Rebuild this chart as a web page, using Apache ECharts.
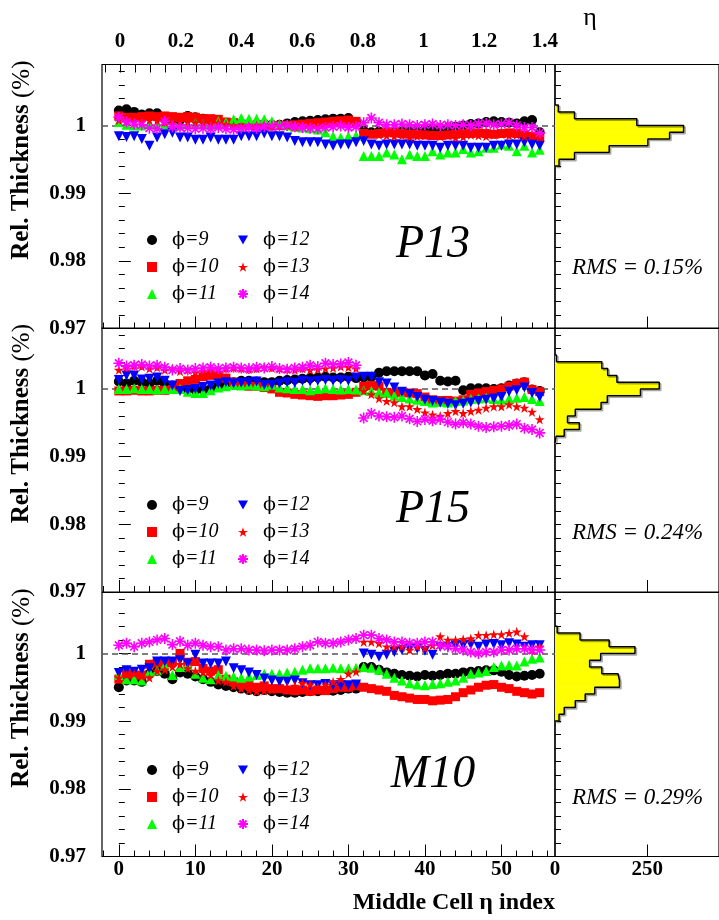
<!DOCTYPE html>
<html><head><meta charset="utf-8">
<script src="https://cdn.jsdelivr.net/npm/echarts@6/dist/echarts.min.js"></script>
<style>html,body{margin:0;padding:0;background:#fff}#c{width:719px;height:920px}</style>
</head><body><div id="c"></div>
<script>
// ---------- DATA ----------
const cellIndex = [0,1,2,3,4,5,6,7,8,9,10,11,12,13,14,15,16,17,18,19,20,21,22,23,24,25,26,27,28,29,30,31,32,33,34,35,36,37,38,39,40,41,42,43,44,45,46,47,48,49,50,51,52,53,54,55];
const phiNames = ['ϕ=9','ϕ=10','ϕ=11','ϕ=12','ϕ=13','ϕ=14'];

// P13
const p13_phi9  = [1.0022,1.0024,1.0020,1.0016,1.0018,1.0018,1.0010,1.0006,1.0008,1.0014,1.0012,1.0010,1.0008,1.0006,1.0004,1.0002,1.0000,1.0001,1.0002,1.0002,1.0001,1.0001,1.0003,1.0005,1.0006,1.0007,1.0008,1.0009,1.0010,1.0010,1.0011,1.0005,0.9992,0.9990,0.9991,0.9990,0.9990,0.9991,0.9991,0.9992,0.9994,0.9995,0.9996,0.9997,0.9998,1.0000,1.0002,1.0003,1.0005,1.0006,1.0005,1.0004,1.0003,1.0006,1.0008,0.9990];
const p13_phi10 = [1.0014,1.0012,1.0012,1.0013,1.0014,1.0013,1.0014,1.0013,1.0012,1.0013,1.0012,1.0010,1.0010,1.0009,1.0005,1.0004,1.0002,1.0000,0.9999,0.9998,0.9999,1.0000,1.0000,1.0001,1.0002,1.0003,1.0004,1.0005,1.0006,1.0007,1.0008,1.0006,0.9988,0.9987,0.9988,0.9990,0.9989,0.9988,0.9987,0.9987,0.9986,0.9985,0.9985,0.9986,0.9987,0.9988,0.9988,0.9989,0.9988,0.9987,0.9988,0.9989,0.9988,0.9986,0.9984,0.9982];
const p13_phi11 = [1.0005,1.0001,1.0000,1.0000,1.0002,1.0000,1.0002,1.0003,1.0000,1.0002,1.0004,1.0002,1.0000,1.0006,1.0005,1.0009,1.0011,1.0010,1.0010,1.0009,1.0006,1.0002,1.0000,0.9998,0.9997,0.9996,0.9994,0.9990,0.9984,0.9982,0.9984,0.9985,0.9955,0.9955,0.9955,0.9960,0.9957,0.9950,0.9957,0.9955,0.9955,0.9962,0.9957,0.9960,0.9960,0.9965,0.9960,0.9962,0.9967,0.9967,0.9972,0.9970,0.9962,0.9970,0.9960,0.9964];
const p13_phi12 = [0.9984,0.9983,0.9984,0.9980,0.9970,0.9982,0.9987,0.9989,0.9982,0.9982,0.9979,0.9979,0.9982,0.9979,0.9979,0.9979,0.9984,0.9984,0.9984,0.9988,0.9984,0.9984,0.9982,0.9977,0.9975,0.9975,0.9975,0.9972,0.9970,0.9972,0.9972,0.9975,0.9977,0.9972,0.9970,0.9972,0.9972,0.9972,0.9972,0.9970,0.9970,0.9970,0.9967,0.9970,0.9970,0.9970,0.9967,0.9967,0.9967,0.9970,0.9970,0.9972,0.9972,0.9975,0.9972,0.9970];
const p13_phi13 = [1.0008,1.0006,1.0005,1.0006,1.0008,1.0007,1.0005,1.0004,1.0006,1.0005,1.0004,1.0003,1.0002,1.0004,1.0002,1.0000,0.9998,0.9999,1.0000,1.0001,1.0000,0.9999,1.0000,0.9998,1.0000,1.0001,1.0002,1.0003,1.0004,1.0003,1.0002,1.0003,0.9989,0.9988,0.9986,0.9985,0.9984,0.9985,0.9983,0.9984,0.9985,0.9986,0.9984,0.9985,0.9982,0.9983,0.9986,0.9985,0.9984,0.9986,0.9987,0.9985,0.9986,0.9984,0.9985,0.9983];
const p13_phi14 = [1.0012,1.0005,1.0002,1.0001,0.9996,0.9995,1.0006,0.9998,0.9997,0.9996,0.9995,0.9996,0.9995,0.9997,0.9995,0.9994,0.9996,0.9997,0.9996,0.9998,0.9999,0.9999,1.0000,0.9998,0.9997,0.9996,0.9995,0.9997,0.9998,0.9999,0.9997,0.9998,1.0004,1.0011,1.0004,1.0001,1.0001,1.0002,1.0001,1.0000,1.0001,1.0002,1.0000,1.0001,1.0000,1.0001,1.0000,1.0002,1.0003,1.0001,1.0002,1.0004,1.0000,0.9997,0.9997,0.9989];

// P15
const p15_phi9  = [1.0011,1.0008,1.0012,1.0010,1.0008,1.0012,1.0008,1.0005,1.0002,1.0000,0.9999,0.9999,1.0000,1.0005,1.0008,1.0010,1.0012,1.0012,1.0011,1.0010,1.0010,1.0012,1.0013,1.0014,1.0015,1.0016,1.0017,1.0018,1.0017,1.0017,1.0018,1.0016,1.0017,1.0018,1.0024,1.0026,1.0026,1.0026,1.0026,1.0026,1.0020,1.0022,1.0012,1.0011,1.0012,0.9998,1.0001,1.0001,1.0001,1.0000,1.0001,1.0005,1.0008,1.0010,0.9999,0.9997];
const p15_phi10 = [0.9997,0.9997,0.9998,0.9997,0.9997,0.9998,0.9998,0.9999,1.0008,1.0012,1.0014,1.0018,1.0020,1.0020,1.0016,1.0010,1.0006,1.0004,1.0004,1.0002,1.0000,0.9995,0.9994,0.9992,0.9991,0.9990,0.9989,0.9990,0.9990,0.9991,0.9992,0.9995,1.0004,1.0005,1.0004,0.9995,0.9994,0.9995,0.9994,0.9993,0.9988,0.9984,0.9983,0.9983,0.9982,0.9984,0.9992,0.9994,0.9996,0.9998,1.0000,1.0004,1.0008,1.0010,0.9999,0.9996];
const p15_phi11 = [1.0000,1.0000,1.0001,1.0000,1.0000,0.9999,1.0000,1.0000,1.0000,0.9996,0.9994,0.9994,0.9998,1.0002,1.0004,1.0006,1.0005,1.0006,1.0005,1.0004,1.0006,1.0002,1.0001,1.0000,1.0000,0.9998,1.0000,1.0001,1.0000,0.9999,1.0000,0.9999,0.9998,0.9997,0.9995,0.9994,0.9990,0.9988,0.9986,0.9984,0.9982,0.9980,0.9981,0.9980,0.9982,0.9983,0.9985,0.9986,0.9987,0.9985,0.9984,0.9986,0.9987,0.9988,0.9985,0.9982];
const p15_phi12 = [1.0013,1.0020,1.0020,1.0014,1.0015,1.0017,1.0012,1.0005,0.9997,0.9998,1.0000,1.0003,1.0005,1.0008,1.0010,1.0008,1.0009,1.0010,1.0011,1.0006,1.0006,1.0008,1.0010,1.0009,1.0012,1.0011,1.0012,1.0013,1.0012,1.0013,1.0012,1.0017,1.0018,1.0018,1.0010,1.0008,1.0002,0.9996,0.9992,0.9988,0.9984,0.9982,0.9980,0.9978,0.9976,0.9978,0.9980,0.9982,0.9984,0.9986,0.9988,0.9996,0.9998,1.0002,0.9994,0.9988];
const p15_phi13 = [1.0028,1.0032,1.0034,1.0033,1.0030,1.0032,1.0028,1.0030,1.0026,1.0028,1.0024,1.0026,1.0028,1.0029,1.0030,1.0031,1.0030,1.0029,1.0030,1.0032,1.0031,1.0030,1.0029,1.0028,1.0030,1.0028,1.0029,1.0030,1.0031,1.0033,1.0032,1.0030,0.9997,0.9992,0.9986,0.9982,0.9980,0.9974,0.9974,0.9970,0.9965,0.9962,0.9960,0.9964,0.9967,0.9964,0.9967,0.9969,0.9972,0.9974,0.9974,0.9977,0.9974,0.9972,0.9966,0.9955];
const p15_phi14 = [1.0038,1.0034,1.0035,1.0036,1.0034,1.0035,1.0032,1.0028,1.0030,1.0028,1.0030,1.0031,1.0032,1.0030,1.0031,1.0032,1.0031,1.0030,1.0032,1.0031,1.0033,1.0030,1.0029,1.0031,1.0032,1.0035,1.0033,1.0038,1.0036,1.0037,1.0039,1.0035,0.9957,0.9964,0.9960,0.9959,0.9958,0.9960,0.9956,0.9952,0.9955,0.9953,0.9955,0.9951,0.9948,0.9950,0.9948,0.9945,0.9943,0.9944,0.9945,0.9946,0.9948,0.9942,0.9940,0.9935];

// M10
const m10_phi9  = [0.9950,0.9960,0.9960,0.9958,0.9970,0.9974,0.9970,0.9962,0.9972,0.9970,0.9966,0.9962,0.9958,0.9954,0.9952,0.9950,0.9948,0.9946,0.9944,0.9946,0.9944,0.9943,0.9942,0.9942,0.9943,0.9944,0.9944,0.9946,0.9945,0.9946,0.9948,0.9948,0.9980,0.9980,0.9976,0.9972,0.9970,0.9968,0.9967,0.9966,0.9968,0.9967,0.9968,0.9970,0.9970,0.9972,0.9973,0.9974,0.9975,0.9975,0.9973,0.9968,0.9966,0.9967,0.9968,0.9970];
const m10_phi10 = [0.9962,0.9970,0.9968,0.9968,0.9984,0.9986,0.9986,0.9988,1.0000,0.9987,0.9988,0.9978,0.9974,0.9976,0.9962,0.9958,0.9955,0.9954,0.9950,0.9952,0.9948,0.9948,0.9946,0.9945,0.9946,0.9944,0.9946,0.9945,0.9948,0.9950,0.9950,0.9952,0.9950,0.9948,0.9946,0.9944,0.9938,0.9936,0.9934,0.9932,0.9932,0.9930,0.9931,0.9932,0.9936,0.9942,0.9946,0.9950,0.9953,0.9954,0.9950,0.9948,0.9944,0.9942,0.9940,0.9942];
const m10_phi11 = [0.9968,0.9962,0.9962,0.9960,0.9973,0.9975,0.9982,0.9968,0.9980,0.9983,0.9970,0.9964,0.9962,0.9968,0.9967,0.9966,0.9964,0.9966,0.9968,0.9970,0.9970,0.9970,0.9972,0.9973,0.9976,0.9978,0.9978,0.9978,0.9979,0.9978,0.9978,0.9979,0.9980,0.9979,0.9976,0.9970,0.9964,0.9960,0.9956,0.9954,0.9953,0.9955,0.9956,0.9958,0.9960,0.9964,0.9970,0.9972,0.9974,0.9980,0.9982,0.9983,0.9982,0.9988,0.9992,0.9994];
const m10_phi12 = [0.9971,0.9975,0.9973,0.9976,0.9978,0.9988,0.9988,0.9988,0.9990,0.9985,0.9998,0.9985,0.9985,0.9985,0.9988,0.9978,0.9975,0.9972,0.9968,0.9963,0.9960,0.9958,0.9958,0.9960,0.9956,0.9953,0.9953,0.9955,0.9953,0.9953,0.9953,0.9954,1.0000,0.9998,0.9995,0.9998,1.0002,1.0005,1.0007,1.0007,1.0004,0.9998,1.0010,1.0010,1.0012,1.0012,1.0013,1.0010,1.0013,1.0014,1.0012,1.0015,1.0013,1.0010,1.0012,1.0012];
const m10_phi13 = [0.9964,0.9968,0.9970,0.9966,0.9964,0.9974,0.9976,0.9980,0.9984,0.9978,0.9974,0.9972,0.9968,0.9960,0.9958,0.9952,0.9948,0.9946,0.9944,0.9945,0.9946,0.9948,0.9950,0.9952,0.9956,0.9954,0.9950,0.9954,0.9958,0.9962,0.9970,0.9973,1.0017,1.0017,1.0015,1.0010,1.0010,1.0010,1.0005,1.0010,1.0008,1.0012,1.0025,1.0020,1.0020,1.0021,1.0022,1.0027,1.0027,1.0028,1.0028,1.0030,1.0032,1.0025,1.0005,1.0010];
const m10_phi14 = [1.0012,1.0015,1.0010,1.0015,1.0017,1.0020,1.0022,1.0013,1.0018,1.0012,1.0015,1.0012,1.0010,1.0010,1.0005,1.0007,1.0007,1.0005,1.0005,1.0004,1.0005,1.0005,1.0005,1.0007,1.0010,1.0012,1.0017,1.0015,1.0015,1.0017,1.0020,1.0022,1.0027,1.0027,1.0022,1.0020,1.0017,1.0017,1.0015,1.0015,1.0017,1.0017,1.0012,1.0010,1.0007,1.0005,1.0002,1.0000,1.0002,1.0002,1.0005,1.0005,1.0007,1.0007,1.0005,1.0005];

// histograms (bin edges ascending, counts per bin)
const p13_histEdges  = [0.994,0.995,0.996,0.997,0.998,0.999,1.000,1.001,1.002,1.003];
const p13_histCounts = [11,53,147,252,311,349,222,53,9];
const p15_histEdges  = [0.992,0.993,0.994,0.995,0.996,0.997,0.998,0.999,1.000,1.001,1.002,1.003,1.004,1.005];
const p15_histCounts = [3,25,66,34,55,125,142,232,283,168,143,127,4];
const m10_histEdges  = [0.990,0.991,0.992,0.993,0.994,0.995,0.996,0.997,0.998,0.999,1.000,1.001,1.002,1.003,1.004];
const m10_histCounts = [11,25,55,82,108,175,171,127,94,124,217,147,68,6];

const panelLabels = ['P13','P15','M10'];
const rmsLabels = ['RMS = 0.15%','RMS = 0.24%','RMS = 0.29%'];

// tick values
const yMajorTicks = [0.97,0.98,0.99,1.00];
const yMinorTicks = [0.972,0.974,0.976,0.978,0.982,0.984,0.986,0.988,0.992,0.994,0.996,0.998,1.002,1.004,1.006,1.008];
const xMajorTicks = [0,10,20,30,40,50];
const xMinorTicks = [-2,2,4,6,8,12,14,16,18,22,24,26,28,32,34,36,38,42,44,46,48,52,54,56];
const etaLabels = [0,0.2,0.4,0.6,0.8,1,1.2,1.4];
const etaTicks = [-0.05,0,0.05,0.1,0.15,0.2,0.25,0.3,0.35,0.4,0.45,0.5,0.55,0.6,0.65,0.7,0.75,0.8,0.85,0.9,0.95,1,1.05,1.1,1.15,1.2,1.25,1.3,1.35,1.4];
const histXLabels = [0,250];
const histXTicks = [250];
const histYTicks = [0.972,0.974,0.976,0.978,0.98,0.982,0.984,0.986,0.988,0.99,0.992,0.994,0.996,0.998,1.0,1.002,1.004,1.006,1.008];

// ---------- STYLE / LAYOUT ----------
const SERIF = 'Liberation Serif';
const PHIFONT = '"DejaVu Serif", "Liberation Serif"';
const panelTop = [64.5, 328, 592.5];
const panelH = 264;
const Y_MIN = 0.97, Y_MAX = 1.009;
const X_MIN = -2.2, X_MAX = 57;
const H_MAX = 445;
const STAR = 'path://M0,-10L2.245,-3.09L9.51,-3.09L3.633,1.18L5.88,8.09L0,3.82L-5.88,8.09L-3.633,1.18L-9.51,-3.09L-2.245,-3.09Z';
const ASTER = 'path://M0,-10L0,10M-10,0L10,0M-7.07,-7.07L7.07,7.07M-7.07,7.07L7.07,-7.07';
const TRI_DOWN = 'path://M0,0L10,0L5,9Z';
const symbols = ['circle','rect','triangle','triangle',STAR,ASTER];
const rotations = [0,0,0,180,0,0];
const colors = ['#000000','#ff0000','#00ff00','#0000ff','#ff0000','#ff00ff'];
const sizes = [10,9,10,10,10,11];

const panelData = [
  [p13_phi9,p13_phi10,p13_phi11,p13_phi12,p13_phi13,p13_phi14],
  [p15_phi9,p15_phi10,p15_phi11,p15_phi12,p15_phi13,p15_phi14],
  [m10_phi9,m10_phi10,m10_phi11,m10_phi12,m10_phi13,m10_phi14]
];
const histEdges = [p13_histEdges,p15_histEdges,m10_histEdges];
const histCounts = [p13_histCounts,p15_histCounts,m10_histCounts];

const fmtNum = v => String(+(+v).toFixed(4));
const tickLabel = {fontFamily:SERIF,fontWeight:'bold',fontSize:21,color:'#000'};

const grids = [], xAxes = [], yAxes = [], series = [], legends = [], graphics = [];

for (let p = 0; p < 3; p++) {
  grids.push({left:102, top:panelTop[p], width:453, height:panelH, show:true, borderColor:'#000', borderWidth:1.2, backgroundColor:'rgba(0,0,0,0)'});
  grids.push({left:555, top:panelTop[p], width:170, height:panelH, show:true, borderColor:'#000', borderWidth:1.2, backgroundColor:'rgba(0,0,0,0)'});
  const gS = 2*p, gH = 2*p+1;
  const last = p === 2;
  xAxes.push({type:'value', gridIndex:gS, position:'bottom', min:X_MIN, max:X_MAX,
    axisLine:{show:false}, splitLine:{show:false},
    axisTick:{show:true, inside:true, length:12, customValues:xMajorTicks, lineStyle:{color:'#000',width:1}},
    axisLabel:Object.assign({show:last, customValues:xMajorTicks, margin:3, formatter:fmtNum}, tickLabel)});
  xAxes.push({type:'value', gridIndex:gS, position:'bottom', min:X_MIN, max:X_MAX,
    axisLine:{show:false}, splitLine:{show:false}, axisLabel:{show:false},
    axisTick:{show:true, inside:true, length:6, customValues:xMinorTicks, lineStyle:{color:'#000',width:1}}});
  xAxes.push({type:'value', gridIndex:gH, position:'bottom', min:0, max:H_MAX,
    axisLine:{show:false}, splitLine:{show:false},
    axisTick:{show:true, inside:true, length:12, customValues:histXTicks, lineStyle:{color:'#000',width:1}},
    axisLabel:Object.assign({show:last, customValues:histXLabels, margin:3, formatter:fmtNum}, tickLabel)});
  yAxes.push({type:'value', gridIndex:gS, position:'left', min:Y_MIN, max:Y_MAX,
    axisLine:{show:false}, splitLine:{show:false},
    axisTick:{show:true, inside:true, length:12, customValues:yMajorTicks, lineStyle:{color:'#000',width:1}},
    axisLabel:Object.assign({show:true, customValues:yMajorTicks, margin:16, formatter:fmtNum}, tickLabel)});
  yAxes.push({type:'value', gridIndex:gS, position:'left', min:Y_MIN, max:Y_MAX,
    axisLine:{show:false}, splitLine:{show:false}, axisLabel:{show:false},
    axisTick:{show:true, inside:true, length:6, customValues:yMinorTicks, lineStyle:{color:'#000',width:1}}});
  yAxes.push({type:'value', gridIndex:gH, position:'left', min:Y_MIN, max:Y_MAX,
    axisLine:{show:false}, splitLine:{show:false}, axisLabel:{show:false},
    axisTick:{show:true, inside:true, length:6, customValues:histYTicks, lineStyle:{color:'#000',width:1}}});

  for (let s = 0; s < 6; s++) {
    const vals = panelData[p][s];
    const ser = {
      type:'scatter', name:phiNames[s], xAxisIndex:3*p, yAxisIndex:3*p, silent:true,
      symbol:symbols[s], symbolSize:sizes[s], symbolRotate:rotations[s],
      itemStyle:{color:colors[s], opacity:1},
      data: cellIndex.map((x,i) => [x, vals[i]]),
      z: 3 + s
    };
    if (s === 5) ser.itemStyle = {color:colors[s], borderColor:colors[s], borderWidth:1.6, opacity:1};
    if (s === 0) ser.markLine = {silent:true, symbol:['none','none'], label:{show:false}, z:2,
      lineStyle:{color:'#555', type:[6,4], width:1.5}, data:[{yAxis:1}]};
    series.push(ser);
  }
  const ed = histEdges[p], ct = histCounts[p];
  series.push({type:'custom', xAxisIndex:3*p+2, yAxisIndex:3*p+2, silent:true, z:3,
    data: ct.map((c,i) => [c, ed[i], ed[i+1]]),
    renderItem: (params, api) => {
      const a = api.coord([0, api.value(1)]);
      const b = api.coord([api.value(0), api.value(2)]);
      return {type:'rect', shape:{x:a[0], y:b[1], width:b[0]-a[0], height:a[1]-b[1]+0.5}, style:{fill:'#ffff00'}};
    }});
  const outline = [[0, ed[0]]];
  for (let i = 0; i < ct.length; i++) { outline.push([ct[i], ed[i]]); outline.push([ct[i], ed[i+1]]); }
  outline.push([0, ed[ed.length-1]]);
  series.push({type:'line', xAxisIndex:3*p+2, yAxisIndex:3*p+2, silent:true, z:4, symbol:'none',
    data: outline,
    lineStyle:{color:'#000', width:1.5, shadowColor:'rgba(0,0,0,0.35)', shadowOffsetX:1.5, shadowOffsetY:1.5, shadowBlur:0}});

  const off = [0, 265, 530][p];
  const legText = {
    fontFamily:SERIF, fontSize:20, color:'#000', lineHeight:20,
    rich:{ s:{width:10}, u:{fontFamily:PHIFONT, fontSize:19, color:'#000'},
           i:{fontFamily:SERIF, fontSize:20, fontStyle:'italic', color:'#000'} }
  };
  const fmt = n => '{s|}{u|ϕ}{i|' + n.slice(1) + '}';
  legends.push({orient:'vertical', left:142, top:225+off, itemWidth:10, itemHeight:10, itemGap:7,
    selectedMode:false, data:phiNames.slice(0,3), textStyle:legText, formatter:fmt});
  legends.push({orient:'vertical', left:232, top:225+off, itemWidth:10, itemHeight:10, itemGap:7,
    selectedMode:false, data:[{name:phiNames[3], icon:TRI_DOWN}, phiNames[4], phiNames[5]], textStyle:legText, formatter:fmt});

  graphics.push({type:'text', x:433, y:245+off, silent:true,
    style:{text:panelLabels[p], fontFamily:SERIF, fontSize:46, fontStyle:'italic', fill:'#000',
      align:'center', verticalAlign:'middle', textAlign:'center', textVerticalAlign:'middle'}});
  graphics.push({type:'text', x:572, y:268+off, silent:true,
    style:{text:rmsLabels[p], fontFamily:SERIF, fontSize:23, fontStyle:'italic', fill:'#000',
      align:'left', verticalAlign:'middle', textAlign:'left', textVerticalAlign:'middle'}});
  graphics.push({type:'text', x:22, y:panelTop[p]-4, rotation:Math.PI/2, silent:true,
    style:{text:'{b|Rel. Thickness }{r|(%)}', fill:'#000', align:'right', verticalAlign:'middle',
      textAlign:'right', textVerticalAlign:'middle',
      rich:{b:{fontFamily:SERIF, fontSize:25, fontWeight:'bold', fill:'#000'},
            r:{fontFamily:SERIF, fontSize:25, fill:'#000'}}}});
}

xAxes.push({type:'value', gridIndex:0, position:'top', min:-0.0597, max:1.4337,
  axisLine:{show:false}, splitLine:{show:false},
  axisTick:{show:true, inside:true, length:8, customValues:etaTicks, lineStyle:{color:'#000',width:1}},
  axisLabel:Object.assign({show:true, customValues:etaLabels, margin:12, formatter:fmtNum}, tickLabel)});

graphics.push({type:'text', x:590, y:18, silent:true,
  style:{text:'η', fontFamily:SERIF, fontSize:26, fill:'#000', align:'center', verticalAlign:'middle',
    textAlign:'center', textVerticalAlign:'middle'}});
graphics.push({type:'text', x:555, y:903, silent:true,
  style:{text:'Middle Cell η index', fontFamily:SERIF, fontSize:24, fontWeight:'bold', fill:'#000',
    align:'right', verticalAlign:'middle', textAlign:'right', textVerticalAlign:'middle'}});

const chart = echarts.init(document.getElementById('c'), null, {renderer:'canvas', width:719, height:920});
chart.setOption({
  animation:false, backgroundColor:'#ffffff',
  grid:grids, xAxis:xAxes, yAxis:yAxes, series:series, legend:legends, graphic:graphics
});
</script>
</body></html>
